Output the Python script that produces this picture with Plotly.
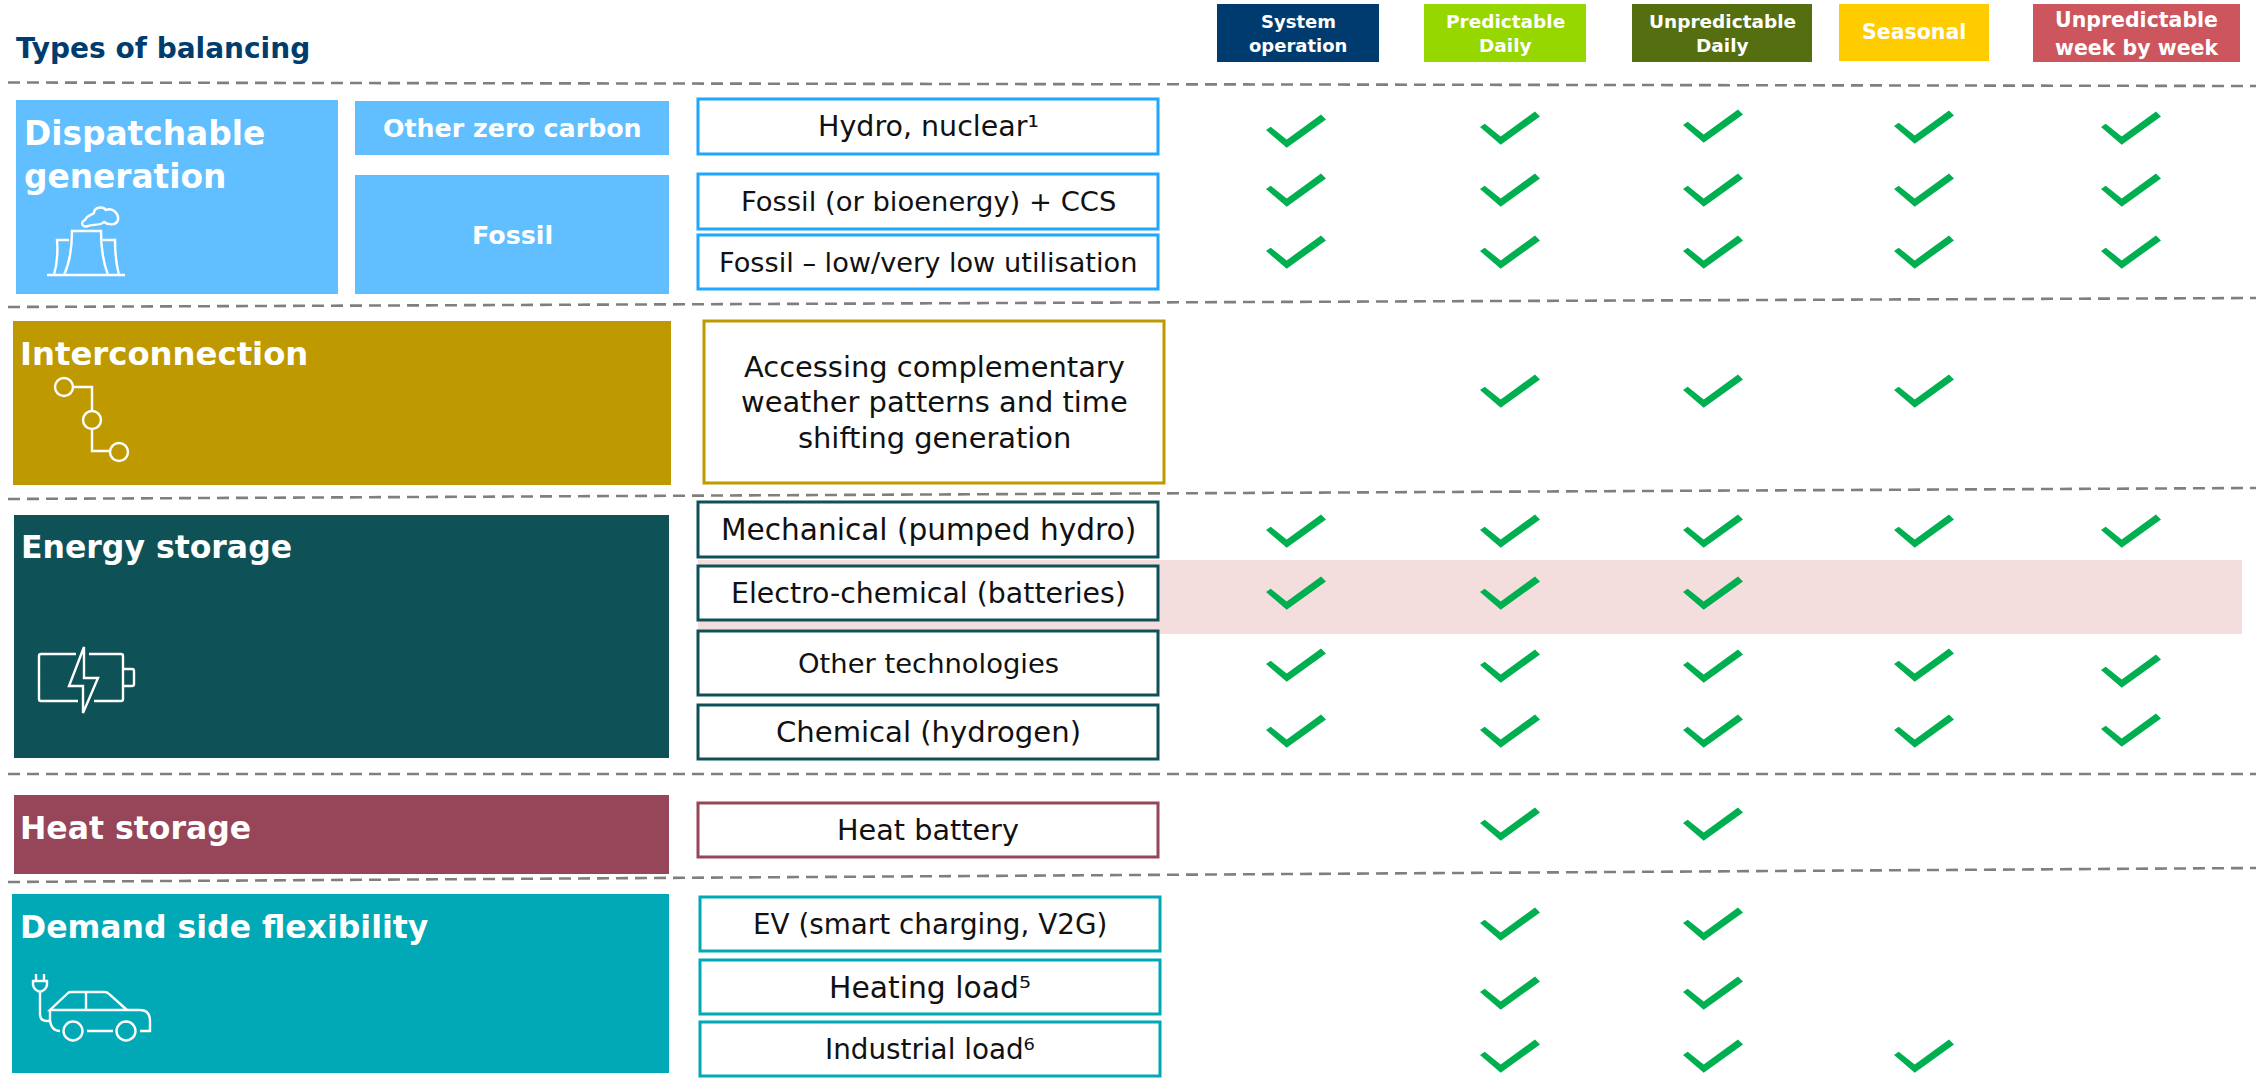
import plotly.graph_objects as go

# ---------- data ----------
balancing_types = ["System<br>operation", "Predictable<br>Daily", "Unpredictable<br>Daily", "Seasonal", "Unpredictable<br>week by week"]
groups = ["Dispatchable<br>generation", "Interconnection", "Energy storage", "Heat storage", "Demand side flexibility"]
subgroups = ["Other zero carbon", "Fossil"]
options = ["Hydro, nuclear¹", "Fossil (or bioenergy) + CCS", "Fossil – low/very low utilisation",
           "Accessing complementary<br>weather patterns and time<br>shifting generation",
           "Mechanical (pumped hydro)", "Electro-chemical (batteries)", "Other technologies", "Chemical (hydrogen)",
           "Heat battery", "EV (smart charging, V2G)", "Heating load⁵", "Industrial load⁶"]
suitability = [
    [1, 1, 1, 1, 1],
    [1, 1, 1, 1, 1],
    [1, 1, 1, 1, 1],
    [0, 1, 1, 1, 0],
    [1, 1, 1, 1, 1],
    [1, 1, 1, 0, 0],
    [1, 1, 1, 1, 1],
    [1, 1, 1, 1, 1],
    [0, 1, 1, 0, 0],
    [0, 1, 1, 0, 0],
    [0, 1, 1, 0, 0],
    [0, 1, 1, 1, 0],
]

# ---------- layout geometry ----------
FONT = "DejaVu Sans"
W, H = 2256, 1078
header_boxes = [(1217, 1379, 4, 62), (1424, 1586, 4, 62), (1632, 1812, 4, 62), (1839, 1989, 4, 61), (2033, 2240, 4, 62)]
header_colors = ["#003B6F", "#97D700", "#556F10", "#FFCC00", "#CD555D"]
header_sizes = [18, 18.5, 18.5, 20.5, 20.5]
header_gaps = [24.5, 24.5, 24.5, 0, 28.5]
header_dy = [1.5, 1.5, 1.5, 0.5, 2]
group_boxes = [(16, 338, 100, 294), (13, 671, 321, 485), (14, 669, 515, 758), (14, 669, 795, 874), (12, 669, 894, 1073)]
group_colors = ["#61BFFF", "#BF9900", "#0E5257", "#964658", "#00A9B5"]
group_text = [(22, 155.5), (18, 354), (19, 547), (18, 828), (18, 927)]
group_sizes = [32.8, 32.3, 31.5, 31.5, 31.5]
sub_boxes = [(355, 669, 101, 155), (355, 669, 175, 294)]
sub_text_y = [128, 235]
option_boxes = [(698, 1158, 99, 154), (698, 1158, 174, 229), (698, 1158, 235, 289),
                (704, 1164, 321, 483),
                (698, 1158, 502, 557), (698, 1158, 566, 620), (698, 1158, 631, 695), (698, 1158, 705, 759),
                (698, 1158, 803, 857),
                (700, 1160, 897, 951), (700, 1160, 960, 1014), (700, 1160, 1022, 1076)]
option_colors = ["#1FA7FF"] * 3 + ["#BF9900"] + ["#0E5257"] * 4 + ["#964658"] + ["#00A9B5"] * 3
option_sizes = [28.5, 27.4, 27.2, 28.9, 29.6, 28.4, 27.4, 29.1, 28.7, 27.8, 29.8, 27.8]
column_x = [1296, 1510, 1713, 1924, 2131]
row_y = [131, 190, 252, 391, 531, 593, 665, 731, 824, 924, 993, 1056]
row_shift = {0: [0, -3, -5, -4, -3], 6: [0, 1, 1, 0, 6], 7: [0, 0, 0, 0, -1]}
separators = [(8, 82.5, 2256, 86), (8, 307, 2256, 298), (8, 499, 2256, 488), (8, 774, 2256, 774), (8, 882, 2256, 868)]
CHECK = [(0, 15.7), (4.7, 12.3), (20.7, 25), (55, 0), (60, 5), (20.7, 33.3)]

shapes, annotations = [], []

def rect(b, fill, line=None, lw=0):
    shapes.append(dict(type="rect", x0=b[0], x1=b[1], y0=b[2], y1=b[3], fillcolor=fill,
                       line=dict(color=line or fill, width=lw), layer="below"))

def label(x, y, text, size, color, bold=False, anchor="center", gap=0):
    lines = text.split("<br>")
    top = y - gap * (len(lines) - 1) / 2
    for i, line in enumerate(lines):
        annotations.append(dict(x=x, y=top + i * gap, text=line, showarrow=False, xanchor=anchor, yanchor="middle",
                                align="left" if anchor == "left" else "center",
                                font=dict(family=FONT, size=size, color=color, weight=700 if bold else 400)))

def icon(path, width=2.4):
    shapes.append(dict(type="path", path=path, line=dict(color="white", width=width), fillcolor="rgba(0,0,0,0)", layer="above"))

def circle(cx, cy, r, width=2.4):
    shapes.append(dict(type="circle", x0=cx - r, x1=cx + r, y0=cy - r, y1=cy + r,
                       line=dict(color="white", width=width), fillcolor="rgba(0,0,0,0)", layer="above"))

# pink highlight band
rect((698, 2242, 560, 634), "#F4DDDD")

for s in separators:
    shapes.append(dict(type="line", x0=s[0], y0=s[1], x1=s[2], y1=s[3], line=dict(color="#7F7F7F", width=2.6, dash="12px,7px")))

label(14, 48.5, "Types of balancing", 28, "#003C6E", True, "left")

for name, b, c, size, g, d in zip(balancing_types, header_boxes, header_colors, header_sizes, header_gaps, header_dy):
    rect(b, c)
    label((b[0] + b[1]) / 2, (b[2] + b[3]) / 2 - 1 + d, name, size, "white", True, gap=g)

for name, b, c, t, size in zip(groups, group_boxes, group_colors, group_text, group_sizes):
    rect(b, c)
    label(t[0], t[1], name, size, "white", True, "left", gap=43)

for name, b, y in zip(subgroups, sub_boxes, sub_text_y):
    rect(b, "#61BFFF")
    label((b[0] + b[1]) / 2, y, name, 25.3, "white", True)

for name, b, c, size in zip(options, option_boxes, option_colors, option_sizes):
    rect(b, "white", c, 3)
    label((b[0] + b[1]) / 2, (b[2] + b[3]) / 2, name, size, "#111111", gap=35.5)

# icons
icon("M47,275 L125,275 M64,275 C70,262 72,245 72,231 L101,231 C101,245 103,262 108,275 "
     "M69,240 L57,240 C58,252 57,264 54,275 M103,240 L115,240 C115,252 116,264 119,275 "
     "M88,226 C82,228 80,222 85,220 C87,215 92,215 94,213 C94,207 103,206 106,210 "
     "C113,207 119,214 118,220 C116,226 108,225 104,222 C100,226 92,224 88,226 Z")
circle(64, 387, 9); circle(92, 420, 9); circle(119, 452, 9)
icon("M73,387 L92,387 L92,411 M92,429 L92,451 L110,451")
icon("M76,654 L41,654 Q39,654 39,656 L39,699 Q39,701 41,701 L78,701 M94,701 L121,701 Q123,701 123,699 L123,656 "
     "Q123,654 121,654 L89,654 M123,669 L132,669 Q134,669 134,671 L134,684 Q134,686 132,686 L123,686 "
     "M84,647 L69,686 L83,686 L83,713 L98,678 L84,678 Z")
icon("M36,974 L36,981 M44,974 L44,981 M33,981 L47,981 L47,985 Q46,990 40,992 Q34,990 33,985 Z "
     "M40,992 L40,1014 Q40,1021 47,1021 L50,1021 M50,1010 L50,1020 Q51,1031 60,1031 M87,1031 L113,1031 "
     "M140,1031 L150,1031 L150,1021 Q150,1010 140,1010 L50,1010 L68,993 Q69,992 71,992 L105,992 Q107,992 109,994 L127,1010 "
     "M86,992 L86,1010")
circle(73, 1031, 9.5); circle(126, 1031, 9.5)

# check marks
xs, ys = [], []
for r, row in enumerate(suitability):
    for c, flag in enumerate(row):
        if flag:
            dy = row_shift.get(r, [0] * 5)[c]
            x0, y0 = column_x[c] - 30, row_y[r] + dy - 16.6
            for px, py in CHECK + CHECK[:1]:
                xs.append(x0 + px); ys.append(y0 + py)
            xs.append(None); ys.append(None)

fig = go.Figure(go.Scatter(x=xs, y=ys, mode="lines", fill="toself", fillcolor="#00AF50",
                           line=dict(color="#00AF50", width=0), hoverinfo="skip", showlegend=False))
fig.update_layout(width=W, height=H, margin=dict(l=0, r=0, t=0, b=0), paper_bgcolor="white", plot_bgcolor="white",
                  shapes=shapes, annotations=annotations, showlegend=False,
                  xaxis=dict(range=[0, W], visible=False, fixedrange=True),
                  yaxis=dict(range=[H, 0], visible=False, fixedrange=True))
fig.write_html("out.html", config=dict(displayModeBar=False), post_script="document.body.style.margin='0';document.body.style.overflow='hidden';")
